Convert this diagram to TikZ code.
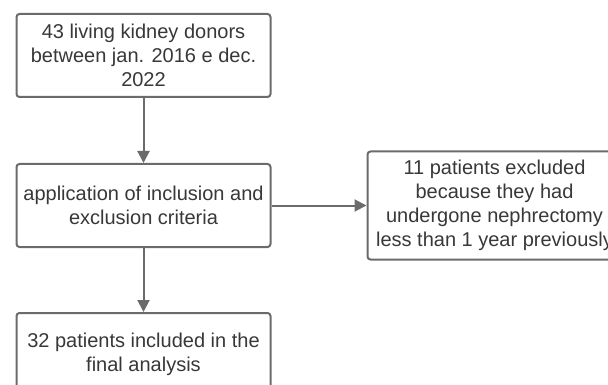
\documentclass[tikz,border=0pt]{standalone}
\usepackage{fontspec}
\setmainfont{Liberation Sans}
\usetikzlibrary{positioning, arrows.meta}
\definecolor{boxgray}{HTML}{6B6B6B}
\definecolor{textgray}{HTML}{383838}

\begin{document}
\begin{tikzpicture}[x=1pt, y=1pt,
    every node/.style={font=\fontsize{20}{24}\selectfont, text=textgray},
    box/.style={draw=boxgray, line width=2pt, rounded corners=3pt, fill=white,
                minimum width=254pt, minimum height=#1, align=center, inner sep=0pt},
    box/.default=83pt,
    flow/.style={draw=boxgray, line width=2pt, -{Triangle[length=12pt, width=12pt]}},
]
\useasboundingbox (0,0) rectangle (608,-385);
\clip (0,0) rectangle (608,-385);

% Donors
\node[box] (donors) at (143.5,-55.5) {43 living kidney donors\\between jan. 2016 e dec.\\2022};

% Criteria
\node[box, anchor=north] (criteria) at ([yshift=-65pt]donors.south)
    {application of inclusion and\\exclusion criteria};

% Excluded patients
\node[box=108pt, anchor=west] (excluded) at ([xshift=95pt]criteria.east)
    {11 patients excluded\\because they had\\undergone nephrectomy\\less than 1 year previously};

% Included patients
\node[box, anchor=north] (included) at ([yshift=-64pt]criteria.south)
    {32 patients included in the\\final analysis};

% Arrows
\draw[flow] (donors.south) -- (criteria.north);
\draw[flow] (criteria.east) -- (excluded.west);
\draw[flow] (criteria.south) -- (included.north);

\end{tikzpicture}
\end{document}
